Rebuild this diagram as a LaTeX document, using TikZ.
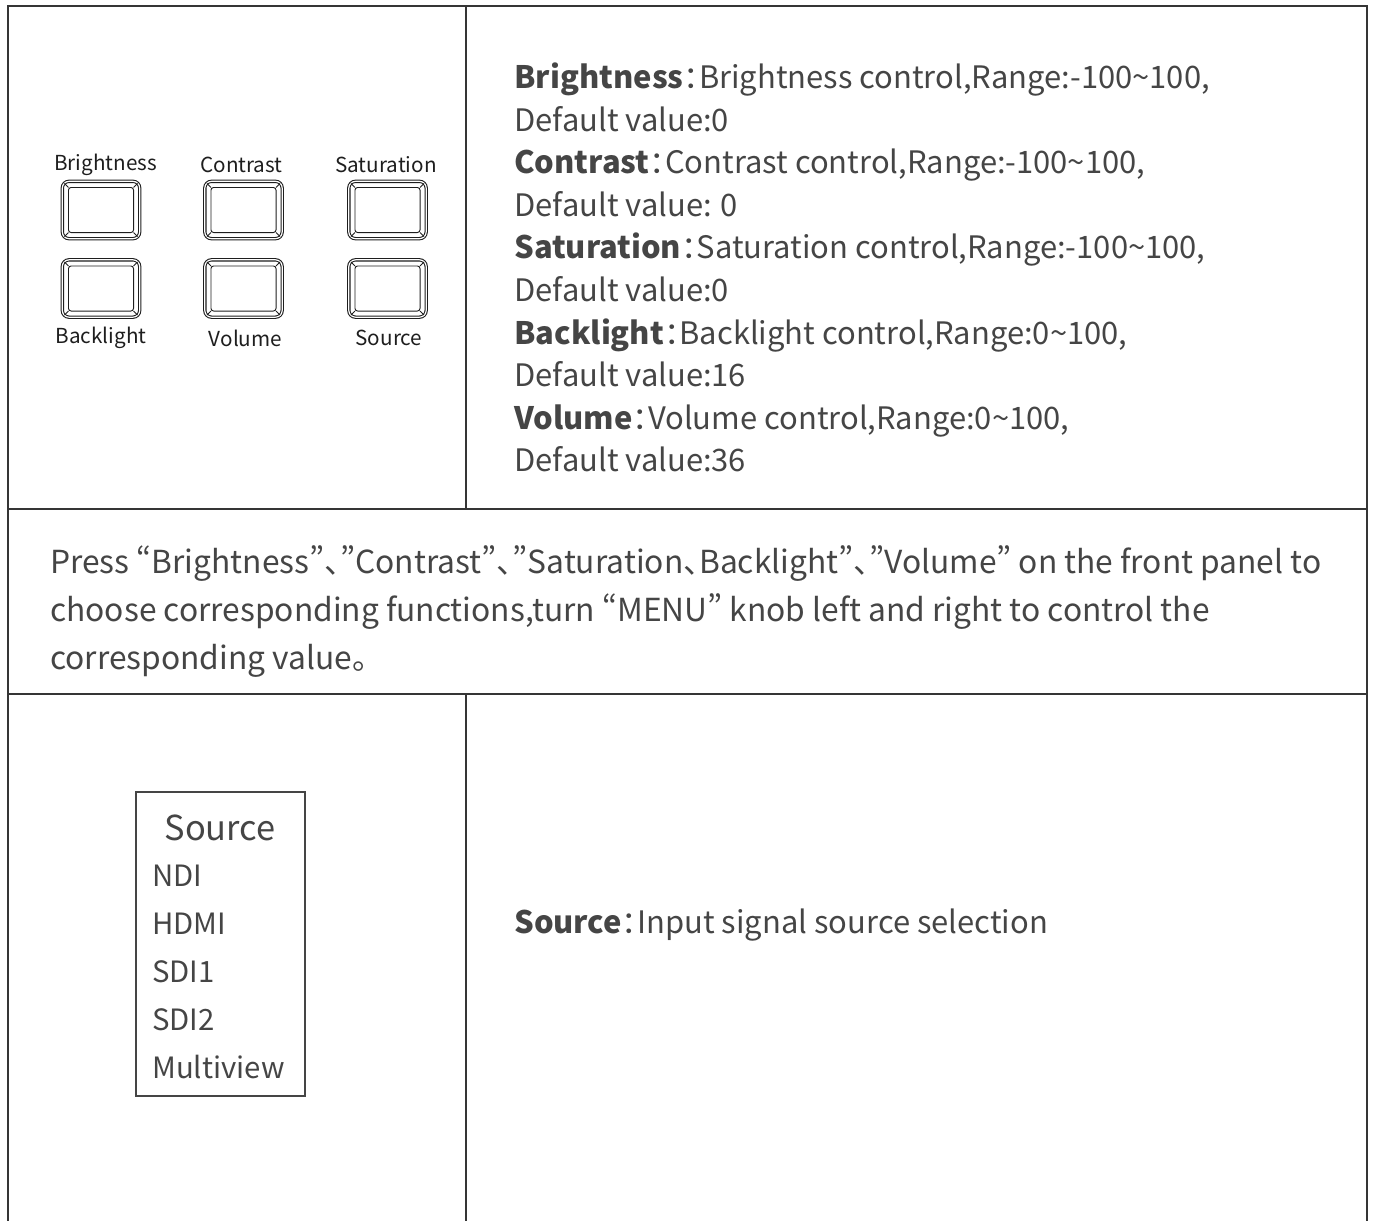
\documentclass[tikz,border=0pt]{standalone}
\usepackage{fontspec}
\setmainfont{Noto Sans CJK SC}[RawFeature={+pwid;+halt}]
\usetikzlibrary{positioning}

\definecolor{ink}{HTML}{454545}
\definecolor{rulegray}{HTML}{353535}
\definecolor{keyline}{HTML}{1E1E1E}

\begin{document}
\begin{tikzpicture}[x=0.75pt, y=-0.75pt,
    frame/.style={draw=rulegray, line width=2.2pt},
    keycap/.style={draw=keyline, line width=0.8pt, double=white, double distance=0.9pt,
        rounded corners=5pt, minimum width=58pt, minimum height=43pt, inner sep=0pt},
    keyinner/.style={draw=keyline, line width=0.7pt},
    keylabel/.style={text=keyline, font=\fontsize{15.5}{18}\selectfont, inner sep=0pt},
    desc/.style={text=ink, font=\fontsize{23.2}{26}\selectfont, anchor=base west, inner sep=0pt},
    note/.style={text=ink, font=\fontsize{23.8}{26}\selectfont, anchor=base west, inner sep=0pt},
    menubox/.style={draw=ink, line width=0.8pt}]

    \useasboundingbox (0,0) rectangle (1375,1221);

    % table rules
    \draw[frame] (8,1221) -- (8,6) -- (1367,6) -- (1367,1221);
    \draw[frame] (8,509) -- (1367,509);
    \draw[frame] (8,694) -- (1367,694);
    \draw[frame] (466,6) -- (466,509);
    \draw[frame] (466,694) -- (466,1221);

    % front panel keys
    \foreach \k/\x/\y in {kb/101/210, kc/243.5/210, ks/387.5/210,
                          kl/101/288.5, kv/243.5/288.5, kr/387.5/288.5} {
        \node[keycap] (\k) at (\x,\y) {};
        \draw[keyinner, rounded corners=2pt] ([shift={(5pt,5pt)}]\k.south west)
            rectangle ([shift={(-5pt,-5pt)}]\k.north east);
        \foreach \a/\dx/\dy in {north west/1/-1, north east/-1/-1, south west/1/1, south east/-1/1}
            \draw[keyinner] ([shift={(\dx*2pt,\dy*2pt)}]\k.\a) -- ([shift={(\dx*5pt,\dy*5pt)}]\k.\a);
    }
    \node[keylabel] (kb-lbl) at (105.5,164.5) {Brightness};
    \node[keylabel] (kc-lbl) at (241.5,164.5) {Contrast};
    \node[keylabel] (ks-lbl) at (386,164.5) {Saturation};
    \node[keylabel] (kl-lbl) at (101,338) {Backlight};
    \node[keylabel] (kv-lbl) at (245.5,338) {Volume};
    \node[keylabel] (kr-lbl) at (389,338) {Source};

    % key descriptions
    \foreach \txt [count=\i from 0] in {
        {\textbf{Brightness}：Brightness control,Range:-100\textasciitilde100,},
        {Default value:0},
        {\textbf{Contrast}：Contrast control,Range:-100\textasciitilde100,},
        {Default value: 0},
        {\textbf{Saturation}：Saturation control,Range:-100\textasciitilde100,},
        {Default value:0},
        {\textbf{Backlight}：Backlight control,Range:0\textasciitilde100,},
        {Default value:16},
        {\textbf{Volume}：Volume control,Range:0\textasciitilde100,},
        {Default value:36}} {
        \node[desc] (desc\i) at (514, 88.5+42.6*\i) {\txt};
    }

    % usage note
    \node[note] (note0) at (50,573) {Press “Brightness”、”Contrast”、”Saturation、Backlight”、”Volume” on the front panel to};
    \node[note] (note1) at (50,621) {choose corresponding functions,turn “MENU” knob left and right to control the};
    \node[note] (note2) at (50,669) {corresponding value。};

    % source menu
    \draw[menubox] (136,792) rectangle (305,1096);
    \node[text=ink, font=\fontsize{25.8}{28}\selectfont, inner sep=0pt] (src) at (220,828) {Source};
    \foreach \item [count=\i from 0] in {NDI, HDMI, SDI1, SDI2, Multiview} {
        \node[note, font=\fontsize{22}{24}\selectfont] (item\i) at (152, 886+48*\i) {\item};
    }
    \node[desc] (srcdesc) at (514,933) {\textbf{Source}：Input signal source selection};

\end{tikzpicture}
\end{document}
